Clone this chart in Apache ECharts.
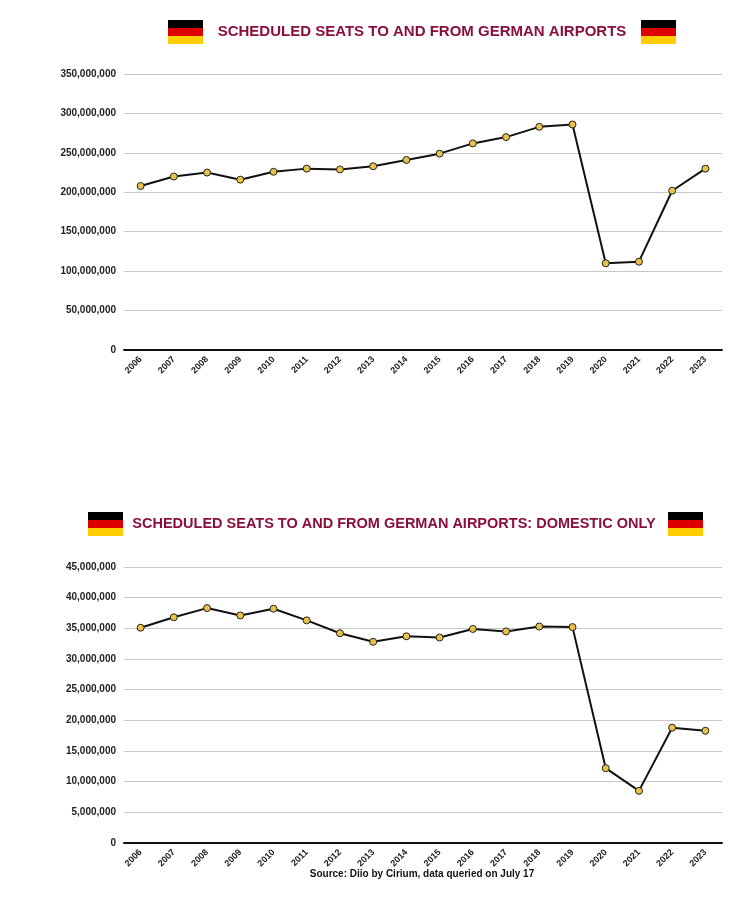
<!DOCTYPE html><html><head><meta charset="utf-8"><script src="https://cdn.jsdelivr.net/npm/echarts@6/dist/echarts.min.js"></script>
<style>html,body{margin:0;background:#fff}#c{width:751px;height:916px}</style></head><body><div id="c"></div><script>
const years=['2006','2007','2008','2009','2010','2011','2012','2013','2014','2015','2016','2017','2018','2019','2020','2021','2022','2023'];
const totalSeats=[208e6,220e6,225e6,216e6,226e6,230e6,229e6,233e6,241e6,249e6,262e6,270e6,283e6,286e6,110e6,112e6,202e6,230e6];
const domesticSeats=[35.1e6,36.8e6,38.3e6,37.1e6,38.2e6,36.3e6,34.2e6,32.8e6,33.7e6,33.5e6,34.9e6,34.5e6,35.3e6,35.2e6,12.2e6,8.5e6,18.8e6,18.3e6];
const c=echarts.init(document.getElementById('c'));
function flag(x,y){return [{type:'rect',shape:{x:x,y:y,width:35,height:8},style:{fill:'#000'}},{type:'rect',shape:{x:x,y:y+8,width:35,height:8},style:{fill:'#dd0000'}},{type:'rect',shape:{x:x,y:y+16,width:35,height:8},style:{fill:'#ffce00'}}];}
const ax=(i)=>({type:'category',gridIndex:i,data:years,axisTick:{show:false},axisLine:{lineStyle:{color:'#111',width:2}},axisLabel:{rotate:45,interval:0,fontSize:9,fontWeight:'bold',color:'#222',fontFamily:'Liberation Sans',margin:8}});
const ay=(i,max,iv)=>({type:'value',gridIndex:i,min:0,max:max,interval:iv,axisLine:{show:false},axisTick:{show:false},splitLine:{lineStyle:{color:'#c8c8c8'}},axisLabel:{fontSize:10,fontWeight:'bold',color:'#222',fontFamily:'Liberation Sans',formatter:v=>v.toLocaleString('en-US')}});
const ser=(i,d)=>({type:'line',xAxisIndex:i,yAxisIndex:i,data:d,symbol:'circle',symbolSize:7,lineStyle:{color:'#111',width:2},itemStyle:{color:'#e8c34a',borderColor:'#222',borderWidth:1},animation:false});
c.setOption({animation:false,
grid:[{left:124,right:29,top:74,height:276},{left:124,right:29,top:567,height:276}],
xAxis:[ax(0),ax(1)],yAxis:[ay(0,350e6,50e6),ay(1,45e6,5e6)],
series:[ser(0,totalSeats),ser(1,domesticSeats)],
graphic:[...flag(168,20),...flag(641,20),...flag(88,512),...flag(668,512),
{type:'text',x:422,y:32,style:{text:'SCHEDULED SEATS TO AND FROM GERMAN AIRPORTS',fill:'#8a0f3c',font:'bold 15px "Liberation Sans"',align:'center',verticalAlign:'middle'}},
{type:'text',x:394,y:524,style:{text:'SCHEDULED SEATS TO AND FROM GERMAN AIRPORTS: DOMESTIC ONLY',fill:'#8a0f3c',font:'bold 14.5px "Liberation Sans"',align:'center',verticalAlign:'middle'}},
{type:'text',x:422,y:874,style:{text:'Source: Diio by Cirium, data queried on July 17',fill:'#111',font:'bold 10px "Liberation Sans"',align:'center',verticalAlign:'middle'}}]});
</script></body></html>
